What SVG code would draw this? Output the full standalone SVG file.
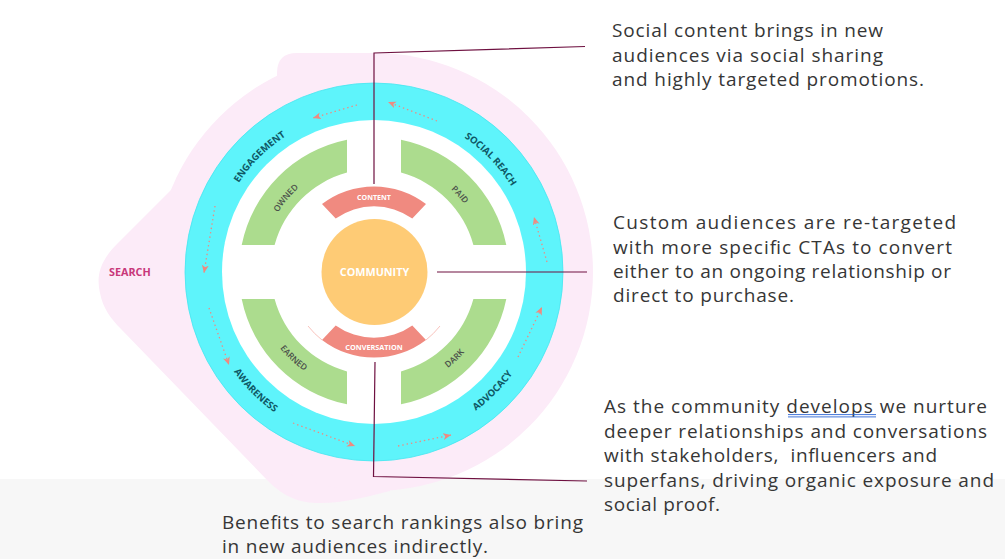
<svg xmlns="http://www.w3.org/2000/svg" width="1005" height="559" viewBox="0 0 1005 559">
<defs>
<style>
.ring{font-family:"Open Sans","Liberation Sans",sans-serif;font-weight:700;font-size:9.6px;fill:#0f5865}
.seg{font-family:"Open Sans","Liberation Sans",sans-serif;font-weight:600;font-size:8.5px;fill:#4a4f4a}
.wl{font-family:"Open Sans","Liberation Sans",sans-serif;font-weight:700;fill:#ffffff;text-anchor:middle}
.note{font-family:"Open Sans","Liberation Sans",sans-serif;font-weight:400;font-size:19px;fill:#363636}
.conn{fill:none;stroke:#6e1040;stroke-width:1.2}
.flow{fill:none;stroke:#ef8a80;stroke-width:1.3;stroke-dasharray:1.4 3;marker-end:url(#ah)}
.pink{fill:#fcebf8}
.green{fill:#acdc8e}
.salmon{fill:#f08a80}
</style>
<marker id="ah" markerUnits="userSpaceOnUse" viewBox="0 0 9 8" markerWidth="9" markerHeight="8" refX="8" refY="3.5" orient="auto">
<path d="M0,0 L8,3.5 L0,7 L2.2,3.5 Z" fill="#ef8a80"/>
</marker>
<path id="pEng" d="M212.4,260.7 A162,162 0 0 1 357.07,110.89"/>
<path id="pSoc" d="M390.93,110.89 A162,162 0 0 1 535.6,260.7"/>
<path id="pAwa" d="M202.66,286.99 A172,172 0 0 0 359.01,443.34"/>
<path id="pAdv" d="M388.99,443.34 A172,172 0 0 0 545.34,286.99"/>
<path id="pOwn" d="M261.07,268.06 A113,113 0 0 1 358.27,160.1"/>
<path id="pPaid" d="M389.73,160.1 A113,113 0 0 1 486.93,268.06"/>
<path id="pEarn" d="M253.9,286.75 A121,121 0 0 0 367.67,392.83"/>
<path id="pDark" d="M380.33,392.83 A121,121 0 0 0 494.1,286.75"/>
</defs>

<rect id="band" x="0" y="479" width="1005" height="80" fill="#f7f7f7"/>

<g id="search-blob">
<path class="pink" d="M174,187 L117,244 C100,261 96,276 100,293 C103,308 110,318 121,329 L267,480 C285,498 300,503 320,503 C345,503 365,497 390,491 L374,272 Z"/>
<path class="pink" d="M374,53 L297,53 Q277,53 277,73 L277,100 L374,100 Z"/>
<circle class="pink" cx="374" cy="272" r="219"/>
<text x="109" y="275.6" style="font-family:'Open Sans','Liberation Sans',sans-serif;font-weight:700;font-size:10.8px;fill:#c8387a">SEARCH</text>
</g>

<g id="journey-ring">
<circle cx="374" cy="272" r="189" fill="#5ef4fb" stroke="#45e6f0" stroke-width="0.8"/>
<circle cx="374" cy="272" r="152" fill="#ffffff"/>
<text class="ring"><textPath href="#pEng" startOffset="51.5%" text-anchor="middle">ENGAGEMENT</textPath></text>
<text class="ring"><textPath href="#pSoc" startOffset="50%" text-anchor="middle">SOCIAL REACH</textPath></text>
<text class="ring"><textPath href="#pAwa" startOffset="50%" text-anchor="middle">AWARENESS</textPath></text>
<text class="ring"><textPath href="#pAdv" startOffset="50%" text-anchor="middle">ADVOCACY</textPath></text>
</g>

<g id="owned">
<path class="green" d="M241.7,245 A135,135 0 0 1 347,139.7 L347,172.6 A103,103 0 0 0 274.6,245 Z"/>
<text class="seg"><textPath href="#pOwn" startOffset="47.5%" text-anchor="middle">OWNED</textPath></text>
</g>
<g id="paid">
<path class="green" d="M401,139.7 A135,135 0 0 1 506.3,245 L473.4,245 A103,103 0 0 0 401,172.6 Z"/>
<text class="seg"><textPath href="#pPaid" startOffset="50%" text-anchor="middle">PAID</textPath></text>
</g>
<g id="dark">
<path class="green" d="M506.3,299 A135,135 0 0 1 401,404.3 L401,371.4 A103,103 0 0 0 473.4,299 Z"/>
<text class="seg"><textPath href="#pDark" startOffset="50%" text-anchor="middle">DARK</textPath></text>
</g>
<g id="earned">
<path class="green" d="M347,404.3 A135,135 0 0 1 241.7,299 L274.6,299 A103,103 0 0 0 347,371.4 Z"/>
<text class="seg"><textPath href="#pEarn" startOffset="50%" text-anchor="middle">EARNED</textPath></text>
</g>

<g id="content">
<path class="salmon" d="M322,204 A85.6,85.6 0 0 1 426,204 L412.3,218.5 A66,66 0 0 0 335.7,218.5 Z"/>
<text class="wl" x="374" y="199.6" style="font-size:7.1px">CONTENT</text>
</g>
<g id="conversation">
<path d="M308,326 A85.6,85.6 0 0 0 322,340 M426,340 A85.6,85.6 0 0 0 440,326" fill="none" stroke="#f6b4ac" stroke-width="0.8"/>
<path class="salmon" d="M335.7,325.5 A66,66 0 0 0 412.3,325.5 L426,340 A85.6,85.6 0 0 1 322,340 Z"/>
<text class="wl" x="374" y="350.2" style="font-size:7.3px">CONVERSATION</text>
</g>
<g id="community">
<circle cx="374.5" cy="272" r="53" fill="#fecb75"/>
<text class="wl" x="374.5" y="276" style="font-size:10.8px">COMMUNITY</text>
</g>

<g id="flow-arrows">
<line class="flow" x1="357" y1="105" x2="313" y2="118"/>
<line class="flow" x1="437" y1="121" x2="388" y2="102"/>
<line class="flow" x1="547" y1="262" x2="534" y2="217"/>
<line class="flow" x1="215" y1="206" x2="204" y2="273"/>
<line class="flow" x1="209" y1="308" x2="229" y2="365"/>
<line class="flow" x1="293" y1="423" x2="355" y2="446"/>
<line class="flow" x1="398" y1="446" x2="451" y2="435"/>
<line class="flow" x1="518" y1="357" x2="542" y2="307"/>
</g>

<g id="connectors">
<path class="conn" d="M374,184 L374,53 L585,46.5"/>
<path class="conn" d="M437,272 L587,272"/>
<path class="conn" d="M375,362 L373.5,476.5 L587,481"/>
</g>

<g id="note-social">
<text class="note" x="612" y="37" textLength="271" lengthAdjust="spacing">Social content brings in new</text>
<text class="note" x="612" y="61.7" textLength="271" lengthAdjust="spacing">audiences via social sharing</text>
<text class="note" x="612" y="86.3" textLength="312" lengthAdjust="spacing">and highly targeted promotions.</text>
</g>
<g id="note-custom">
<text class="note" x="613" y="229.3" textLength="343" lengthAdjust="spacing">Custom audiences are re-targeted</text>
<text class="note" x="613" y="253.5" textLength="339" lengthAdjust="spacing">with more specific CTAs to convert</text>
<text class="note" x="613" y="277.7" textLength="338" lengthAdjust="spacing">either to an ongoing relationship or</text>
<text class="note" x="613" y="301.8" textLength="181" lengthAdjust="spacing">direct to purchase.</text>
</g>
<g id="note-community">
<text class="note" x="604" y="413.3" textLength="383" lengthAdjust="spacing">As the community develops we nurture</text>
<path d="M788,414.6 L876,414.6 M788,416.9 L876,416.9" fill="none" stroke="#2a64d4" stroke-width="0.9"/>
<text class="note" x="604" y="437.7" textLength="383" lengthAdjust="spacing">deeper relationships and conversations</text>
<text class="note" x="604" y="461.9" textLength="333" lengthAdjust="spacing" xml:space="preserve">with stakeholders,  influencers and</text>
<text class="note" x="604" y="486.5" textLength="390" lengthAdjust="spacing">superfans, driving organic exposure and</text>
<text class="note" x="604" y="511" textLength="116" lengthAdjust="spacing">social proof.</text>
</g>
<g id="note-search">
<text class="note" x="222" y="529.3" textLength="361" lengthAdjust="spacing">Benefits to search rankings also bring</text>
<text class="note" x="222" y="553.3" textLength="266" lengthAdjust="spacing">in new audiences indirectly.</text>
</g>
</svg>
